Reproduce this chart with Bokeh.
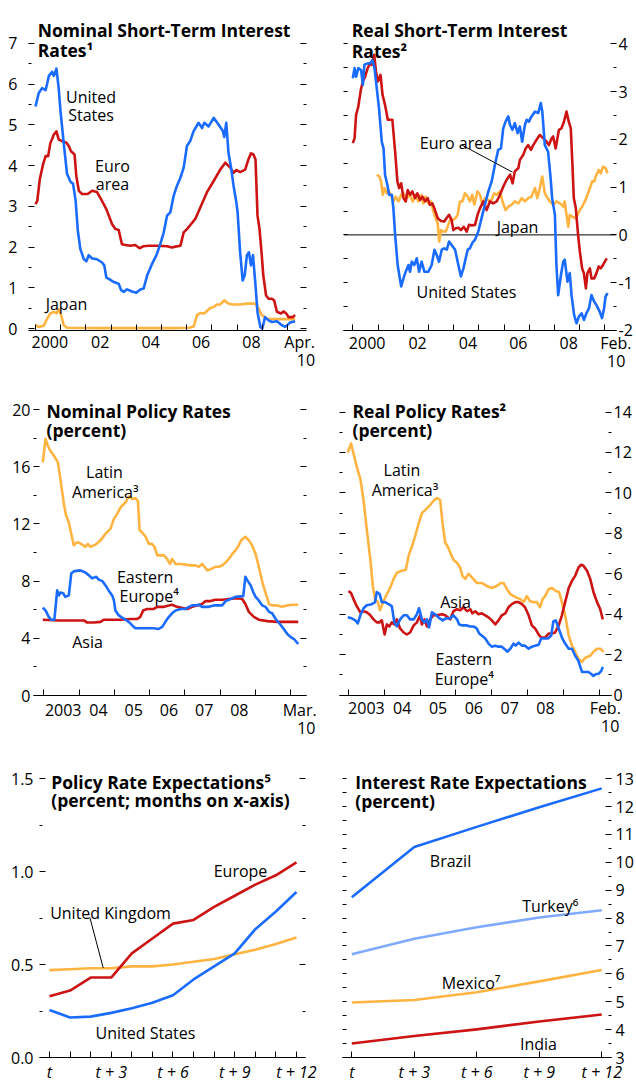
from bokeh.plotting import figure
from bokeh.models import FixedTicker, LinearAxis, Label, Range1d, Span, Arrow, PrintfTickFormatter
from bokeh.layouts import column, row
from bokeh.embed import file_html
from bokeh.resources import INLINE

FONT = "Open Sans"
FS = "16px"
TITLE_FS = "17.5px"
BLUE = "#1A6BFF"
RED = "#CC1414"
ORANGE = "#FFB441"
LIGHT_BLUE = "#80AAFF"
LW = 2.6

# ---------------- data: (year, percent) ----------------
# Panel 1: nominal short-term interest rates
nom_us = [(2000.0,5.45),(2000.13,5.78),(2000.26,5.9),(2000.40,5.85),(2000.46,6.0),(2000.53,6.2),(2000.66,6.3),
          (2000.73,6.2),(2000.83,6.38),(2000.92,5.9),(2000.99,5.35),(2001.12,4.55),(2001.25,3.8),(2001.39,3.6),
          (2001.49,3.55),(2001.59,3.15),(2001.68,2.4),(2001.78,1.95),(2001.92,1.7),(2002.02,1.65),(2002.11,1.8),
          (2002.25,1.72),(2002.44,1.7),(2002.64,1.62),(2002.73,1.55),(2002.81,1.25),(2002.91,1.22),(2003.11,1.14),
          (2003.30,1.1),(2003.40,0.94),(2003.50,0.9),(2003.63,0.96),(2003.83,0.91),(2004.00,0.88),(2004.16,0.96),
          (2004.29,0.98),(2004.43,1.3),(2004.62,1.58),(2004.80,1.8),(2004.93,2.03),(2005.09,2.36),(2005.22,2.77),
          (2005.35,2.85),(2005.48,3.25),(2005.61,3.5),(2005.75,3.7),(2005.88,3.95),(2006.01,4.48),(2006.14,4.6),
          (2006.27,4.84),(2006.47,5.05),(2006.61,4.92),(2006.70,5.05),(2006.87,4.96),(2007.07,5.17),(2007.27,5.0),
          (2007.44,4.84),(2007.49,4.7),(2007.57,5.05),(2007.66,4.3),(2007.75,3.99),(2007.86,3.5),(2007.97,3.1),
          (2008.02,2.85),(2008.12,1.87),(2008.22,1.18),(2008.30,1.3),(2008.39,1.8),(2008.47,1.87),(2008.55,1.55),
          (2008.63,1.8),(2008.72,1.14),(2008.81,0.4),(2008.92,0.04),(2009.00,0.0),(2009.11,0.28),(2009.25,0.2),
          (2009.38,0.16),(2009.58,0.18),(2009.78,0.08),(2009.91,0.04),(2010.11,0.15),(2010.30,0.18)]
nom_euro = [(2000.0,3.05),(2000.07,3.13),(2000.17,3.66),(2000.30,4.03),(2000.40,4.23),(2000.50,4.23),(2000.59,4.55),
            (2000.73,4.76),(2000.83,4.84),(2000.92,4.64),(2001.06,4.6),(2001.23,4.56),(2001.32,4.48),(2001.41,4.35),
            (2001.55,4.27),(2001.62,3.74),(2001.72,3.38),(2001.85,3.3),(2002.07,3.3),(2002.25,3.38),(2002.44,3.35),
            (2002.64,3.13),(2002.81,2.93),(2002.91,2.77),(2003.04,2.56),(2003.17,2.44),(2003.30,2.42),(2003.43,2.07),
            (2003.57,2.05),(2003.76,2.03),(2003.96,2.05),(2004.13,1.97),(2004.29,2.02),(2004.49,2.03),(2004.82,2.03),
            (2005.22,2.02),(2005.42,1.99),(2005.55,2.01),(2005.75,2.03),(2005.88,2.36),(2006.01,2.44),(2006.21,2.59),
            (2006.34,2.69),(2006.54,2.97),(2006.80,3.34),(2007.07,3.62),(2007.33,3.9),(2007.53,4.07),(2007.73,3.95),
            (2007.86,3.82),(2007.97,3.89),(2008.12,3.84),(2008.32,3.9),(2008.45,4.15),(2008.55,4.3),(2008.65,4.27),
            (2008.73,4.15),(2008.81,2.77),(2008.89,2.44),(2008.98,1.79),(2009.04,1.3),(2009.15,0.81),(2009.25,0.73),
            (2009.38,0.73),(2009.47,0.69),(2009.58,0.41),(2009.74,0.37),(2009.84,0.42),(2009.95,0.37),(2010.04,0.28),
            (2010.21,0.28),(2010.30,0.33)]
nom_japan = [(2000.0,0.08),(2000.13,0.04),(2000.33,0.07),(2000.46,0.24),(2000.59,0.37),(2000.73,0.41),(2000.83,0.37),
             (2000.92,0.47),(2001.02,0.33),(2001.12,0.08),(2001.25,0.02),(2002.5,0.01),(2004.0,0.01),(2005.5,0.01),
             (2006.08,0.02),(2006.28,0.05),(2006.41,0.33),(2006.54,0.38),(2006.70,0.37),(2006.91,0.49),(2007.07,0.53),
             (2007.20,0.59),(2007.33,0.59),(2007.49,0.69),(2007.66,0.61),(2007.86,0.59),(2008.12,0.59),(2008.39,0.61),
             (2008.72,0.61),(2008.85,0.49),(2008.98,0.33),(2009.18,0.24),(2009.58,0.23),(2009.97,0.23),(2010.30,0.23)]

# Panel 2: real short-term interest rates
real_us = [(2000.0,3.28),(2000.07,3.49),(2000.13,3.31),(2000.22,3.49),(2000.33,3.45),(2000.40,3.14),(2000.46,3.56),
           (2000.59,3.59),(2000.69,3.59),(2000.78,3.66),(2000.86,3.49),(2000.95,3.07),(2001.04,2.65),(2001.15,1.95),
           (2001.22,1.81),(2001.28,1.26),(2001.37,1.05),(2001.44,0.84),(2001.55,0.84),(2001.61,0.56),(2001.68,0.0),
           (2001.78,-0.63),(2001.92,-1.08),(2002.01,-0.91),(2002.10,-0.77),(2002.21,-0.63),(2002.27,-0.77),
           (2002.34,-0.56),(2002.44,-0.63),(2002.54,-0.49),(2002.63,-0.77),(2002.73,-0.56),(2002.84,-0.77),
           (2003.0,-0.77),(2003.13,-0.63),(2003.24,-0.31),(2003.33,-0.42),(2003.42,-0.56),(2003.53,-0.31),
           (2003.63,-0.28),(2003.73,-0.31),(2003.82,-0.14),(2003.92,-0.21),(2004.06,-0.31),(2004.16,-0.56),
           (2004.29,-0.87),(2004.39,-0.70),(2004.45,-0.56),(2004.56,-0.31),(2004.65,-0.28),(2004.74,-0.17),
           (2004.85,-0.10),(2004.98,0.07),(2005.11,0.35),(2005.24,0.63),(2005.38,0.91),(2005.51,1.12),(2005.64,1.47),
           (2005.77,1.78),(2005.88,1.81),(2005.97,2.23),(2006.06,2.37),(2006.17,2.48),(2006.24,2.30),(2006.33,2.20),
           (2006.43,2.34),(2006.54,2.13),(2006.63,2.27),(2006.72,1.95),(2006.83,2.30),(2006.90,2.41),(2006.99,2.37),
           (2007.09,2.48),(2007.23,2.58),(2007.36,2.55),(2007.46,2.76),(2007.52,2.58),(2007.62,1.88),(2007.75,1.74),
           (2007.85,1.19),(2007.91,0.77),(2008.02,0.42),(2008.08,-0.63),(2008.15,-1.26),(2008.26,-0.84),
           (2008.35,-0.56),(2008.41,-0.52),(2008.52,-0.98),(2008.61,-0.80),(2008.68,-1.26),(2008.78,-1.67),
           (2008.88,-1.85),(2008.97,-1.71),(2009.08,-1.64),(2009.17,-1.78),(2009.27,-1.64),(2009.37,-1.54),
           (2009.47,-1.26),(2009.58,-1.40),(2009.67,-1.47),(2009.80,-1.61),(2009.89,-1.74),(2009.97,-1.54),
           (2010.03,-1.29),(2010.11,-1.22)]
real_euro = [(2000.0,1.92),(2000.07,2.02),(2000.13,2.51),(2000.22,2.69),(2000.32,3.04),(2000.40,3.21),(2000.49,3.31),
             (2000.59,3.49),(2000.69,3.59),(2000.75,3.56),(2000.85,3.77),(2000.92,3.42),(2000.99,3.21),(2001.10,3.35),
             (2001.18,2.93),(2001.28,2.72),(2001.39,2.41),(2001.48,2.41),(2001.57,2.41),(2001.68,1.74),(2001.77,1.12),
             (2001.84,0.98),(2001.92,1.08),(2002.01,0.77),(2002.10,0.70),(2002.18,0.94),(2002.27,0.84),(2002.36,0.91),
             (2002.47,0.77),(2002.56,0.87),(2002.67,0.73),(2002.76,0.80),(2002.87,0.70),(2002.97,0.77),(2003.06,0.63),
             (2003.16,0.66),(2003.26,0.52),(2003.37,0.35),(2003.50,0.29),(2003.63,0.28),(2003.73,0.36),(2003.82,0.42),
             (2003.92,0.31),(2003.99,0.10),(2004.08,0.14),(2004.19,0.15),(2004.29,0.10),(2004.40,0.17),(2004.52,0.07),
             (2004.61,0.21),(2004.72,0.20),(2004.85,0.21),(2004.95,0.42),(2005.05,0.56),(2005.18,0.70),(2005.31,0.52),
             (2005.44,0.70),(2005.57,0.66),(2005.71,0.70),(2005.84,0.84),(2005.97,1.01),(2006.10,1.15),(2006.24,1.26),
             (2006.34,1.08),(2006.43,1.33),(2006.57,1.40),(2006.63,1.57),(2006.76,1.67),(2006.86,1.81),(2006.96,1.88),
             (2007.07,1.78),(2007.16,1.88),(2007.29,1.99),(2007.42,2.09),(2007.56,2.02),(2007.69,1.95),(2007.78,1.88),
             (2007.89,2.02),(2007.95,2.06),(2008.05,1.81),(2008.12,2.02),(2008.18,2.20),(2008.28,2.23),(2008.38,2.37),
             (2008.48,2.58),(2008.57,2.37),(2008.65,2.23),(2008.71,1.54),(2008.77,0.77),(2008.85,0.56),(2008.94,0.0),
             (2009.01,-0.35),(2009.10,-0.70),(2009.17,-0.80),(2009.25,-1.12),(2009.31,-0.80),(2009.41,-0.70),
             (2009.47,-0.91),(2009.58,-0.91),(2009.67,-0.80),(2009.76,-0.66),(2009.84,-0.70),(2009.93,-0.63),
             (2010.0,-0.56),(2010.08,-0.49)]
real_japan = [(2000.95,1.26),(2001.06,1.22),(2001.12,1.12),(2001.19,0.84),(2001.25,0.98),(2001.35,0.87),(2001.41,0.94),
              (2001.51,0.84),(2001.61,0.70),(2001.70,0.80),(2001.81,0.70),(2001.92,0.84),(2002.01,0.87),(2002.14,0.77),
              (2002.27,0.84),(2002.38,0.70),(2002.50,0.84),(2002.60,0.70),(2002.71,0.84),(2002.80,0.66),(2002.89,0.80),
              (2003.0,0.66),(2003.10,0.70),(2003.20,0.49),(2003.29,0.35),(2003.37,0.24),(2003.43,-0.14),(2003.50,0.10),
              (2003.59,0.07),(2003.69,0.07),(2003.79,0.21),(2003.86,0.31),(2003.95,0.31),(2004.08,0.35),(2004.16,0.42),
              (2004.25,0.70),(2004.35,0.70),(2004.45,0.87),(2004.56,0.80),(2004.65,0.70),(2004.74,0.84),(2004.82,0.63),
              (2004.95,0.91),(2005.05,0.84),(2005.14,0.63),(2005.24,0.77),(2005.38,0.73),(2005.48,0.70),(2005.61,0.87),
              (2005.70,0.84),(2005.84,0.91),(2005.94,0.70),(2006.06,0.52),(2006.17,0.59),(2006.30,0.63),(2006.43,0.70),
              (2006.57,0.66),(2006.70,0.77),(2006.83,0.70),(2006.96,0.77),(2007.09,0.80),(2007.23,0.98),(2007.32,0.77),
              (2007.42,0.98),(2007.52,1.22),(2007.62,0.87),(2007.73,0.77),(2007.82,0.70),(2007.95,0.63),(2008.08,0.70),
              (2008.22,0.66),(2008.35,0.59),(2008.41,0.70),(2008.48,0.42),(2008.55,0.17),(2008.61,0.42),(2008.71,0.38),
              (2008.81,0.35),(2008.92,0.42),(2009.01,0.52),(2009.10,0.59),(2009.21,0.70),(2009.31,0.84),(2009.41,0.98),
              (2009.50,1.12),(2009.58,1.12),(2009.67,1.26),(2009.76,1.36),(2009.84,1.29),(2009.93,1.43),(2010.03,1.40),
              (2010.11,1.29)]

# Panel 3: nominal policy rates
pol_latam = [(2002.97,16.3),(2003.05,17.95),(2003.11,17.5),(2003.19,17.1),(2003.28,16.8),(2003.40,16.3),(2003.47,15.15),
             (2003.57,13.4),(2003.63,12.6),(2003.71,12.1),(2003.78,11.3),(2003.85,10.5),(2003.93,10.7),(2003.99,10.7),
             (2004.09,10.55),(2004.18,10.4),(2004.25,10.6),(2004.32,10.4),(2004.47,10.55),(2004.61,10.85),(2004.75,11.3),
             (2004.89,11.65),(2004.99,12.35),(2005.08,12.7),(2005.19,13.2),(2005.32,13.5),(2005.41,13.9),(2005.51,13.75),
             (2005.60,13.8),(2005.67,13.6),(2005.72,11.55),(2005.79,11.4),(2005.89,11.1),(2005.98,10.6),(2006.07,10.6),
             (2006.14,10.4),(2006.22,9.8),(2006.31,9.8),(2006.41,9.8),(2006.50,9.55),(2006.58,9.2),(2006.64,9.55),
             (2006.74,9.2),(2006.88,9.2),(2007.02,9.15),(2007.16,9.1),(2007.30,9.1),(2007.40,9.0),(2007.49,9.2),
             (2007.56,9.0),(2007.64,8.75),(2007.75,8.85),(2007.87,9.0),(2007.97,9.0),(2008.06,9.1),(2008.16,9.3),
             (2008.25,9.55),(2008.35,9.9),(2008.44,10.15),(2008.51,10.4),(2008.60,10.85),(2008.72,11.1),(2008.82,10.85),
             (2008.91,10.5),(2009.01,9.9),(2009.10,9.0),(2009.20,7.95),(2009.29,7.2),(2009.39,6.4),(2009.48,6.3),
             (2009.62,6.3),(2009.76,6.2),(2009.91,6.3),(2010.05,6.35),(2010.22,6.35)]
pol_easteu = [(2002.97,6.15),(2003.05,5.95),(2003.14,5.5),(2003.21,5.3),(2003.30,5.3),(2003.38,7.35),(2003.43,7.0),
              (2003.47,7.2),(2003.55,7.15),(2003.61,6.9),(2003.71,7.0),(2003.78,8.55),(2003.87,8.7),(2004.04,8.75),
              (2004.18,8.6),(2004.28,8.4),(2004.37,8.2),(2004.49,8.3),(2004.56,8.1),(2004.66,8.0),(2004.75,7.7),
              (2004.84,7.35),(2004.94,7.0),(2004.99,6.65),(2005.03,5.95),(2005.13,5.6),(2005.22,5.45),(2005.32,5.3),
              (2005.41,5.15),(2005.51,4.9),(2005.60,4.7),(2005.84,4.7),(2006.12,4.7),(2006.26,4.65),(2006.36,4.8),
              (2006.45,5.15),(2006.55,5.5),(2006.64,5.75),(2006.74,5.95),(2006.88,6.05),(2007.02,6.05),(2007.12,6.2),
              (2007.21,6.3),(2007.30,6.3),(2007.40,6.35),(2007.49,6.2),(2007.68,6.2),(2007.82,6.3),(2008.06,6.3),
              (2008.16,6.6),(2008.30,6.75),(2008.44,6.9),(2008.66,6.95),(2008.72,8.3),(2008.79,8.0),(2008.87,7.7),
              (2008.94,7.25),(2009.01,6.9),(2009.10,6.65),(2009.20,6.3),(2009.29,6.2),(2009.39,5.85),(2009.48,5.75),
              (2009.58,5.35),(2009.70,5.0),(2009.81,4.65),(2009.91,4.3),(2010.0,4.1),(2010.10,3.95),(2010.22,3.6)]
pol_asia = [(2002.97,5.3),(2003.43,5.25),(2004.14,5.25),(2004.23,5.1),(2004.42,5.1),(2004.61,5.15),(2004.70,5.3),
            (2005.18,5.3),(2005.46,5.35),(2005.65,5.35),(2005.74,5.5),(2005.82,5.95),(2005.93,6.05),(2006.12,6.05),
            (2006.22,6.2),(2006.41,6.2),(2006.55,6.3),(2006.64,6.35),(2006.78,6.2),(2007.07,6.05),(2007.21,6.2),
            (2007.35,6.3),(2007.49,6.4),(2007.59,6.6),(2007.73,6.6),(2007.87,6.7),(2008.06,6.7),(2008.25,6.75),
            (2008.49,6.8),(2008.63,6.75),(2008.72,6.4),(2008.82,5.85),(2008.96,5.5),(2009.10,5.3),(2009.34,5.2),
            (2009.62,5.15),(2010.22,5.15)]

# Panel 4: real policy rates
real_latam = [(2002.98,12.0),(2003.07,12.45),(2003.14,11.95),(2003.23,11.3),(2003.33,10.7),(2003.42,9.65),(2003.51,8.2),
              (2003.61,6.7),(2003.68,5.4),(2003.74,4.75),(2003.82,4.6),(2003.88,4.2),(2003.98,4.65),(2004.07,5.0),
              (2004.16,5.3),(2004.26,5.75),(2004.35,6.05),(2004.49,6.15),(2004.60,6.2),(2004.68,6.9),(2004.77,7.35),
              (2004.86,7.85),(2004.96,8.5),(2005.05,9.0),(2005.14,9.15),(2005.28,9.4),(2005.37,9.6),(2005.47,9.75),
              (2005.56,9.65),(2005.63,8.45),(2005.70,7.55),(2005.77,7.35),(2005.84,7.05),(2005.93,6.7),(2006.03,6.55),
              (2006.12,6.3),(2006.18,5.9),(2006.26,5.75),(2006.35,6.0),(2006.46,5.8),(2006.58,5.55),(2006.72,5.55),
              (2006.86,5.4),(2007.0,5.3),(2007.14,5.4),(2007.26,5.55),(2007.33,5.55),(2007.42,5.25),(2007.52,5.0),
              (2007.66,4.85),(2007.80,4.75),(2007.89,4.6),(2007.98,4.9),(2008.07,4.65),(2008.17,4.6),(2008.26,4.6),
              (2008.35,4.35),(2008.42,4.75),(2008.49,4.9),(2008.59,5.25),(2008.68,5.3),(2008.79,5.15),(2008.88,5.1),
              (2008.96,4.6),(2009.05,3.95),(2009.15,2.95),(2009.24,2.45),(2009.33,2.15),(2009.42,1.8),(2009.52,1.65),
              (2009.61,1.85),(2009.75,1.95),(2009.84,2.15),(2009.94,2.3),(2010.03,2.3),(2010.12,2.15)]
real_asia = [(2003.0,5.15),(2003.07,5.05),(2003.14,4.75),(2003.23,4.4),(2003.33,4.1),(2003.42,4.15),(2003.51,4.1),
             (2003.61,3.95),(2003.70,3.75),(2003.79,3.6),(2003.86,3.6),(2003.93,3.7),(2004.01,3.0),(2004.07,3.5),
             (2004.14,3.4),(2004.21,3.6),(2004.28,3.5),(2004.35,3.75),(2004.44,3.3),(2004.54,3.1),(2004.63,3.0),
             (2004.72,3.1),(2004.82,3.45),(2004.91,3.6),(2005.0,3.95),(2005.05,3.5),(2005.12,3.75),(2005.19,3.4),
             (2005.28,3.75),(2005.37,3.95),(2005.47,3.95),(2005.61,4.0),(2005.70,3.95),(2005.84,3.75),(2005.93,4.15),
             (2006.03,4.25),(2006.12,4.2),(2006.21,4.35),(2006.31,4.15),(2006.40,4.25),(2006.46,4.05),(2006.54,4.15),
             (2006.63,4.0),(2006.72,4.05),(2006.82,3.95),(2006.91,3.85),(2007.0,3.7),(2007.10,3.5),(2007.19,3.7),
             (2007.28,3.95),(2007.38,4.05),(2007.47,4.35),(2007.56,4.5),(2007.66,4.6),(2007.75,4.6),(2007.84,4.5),
             (2007.93,4.35),(2008.03,3.95),(2008.12,3.45),(2008.21,3.3),(2008.31,3.0),(2008.38,2.85),(2008.49,2.85),
             (2008.59,3.05),(2008.68,3.05),(2008.77,3.1),(2008.87,3.45),(2008.96,3.95),(2009.05,4.6),(2009.15,5.3),
             (2009.24,5.65),(2009.33,5.9),(2009.42,6.3),(2009.50,6.45),(2009.56,6.4),(2009.66,6.15),(2009.75,5.75),
             (2009.84,5.1),(2009.94,4.6),(2010.03,4.25),(2010.10,3.75)]
real_easteu = [(2002.98,3.85),(2003.09,3.8),(2003.19,3.7),(2003.26,3.55),(2003.33,3.95),(2003.42,4.3),(2003.51,4.45),
               (2003.65,4.5),(2003.74,4.6),(2003.79,5.1),(2003.87,5.0),(2003.93,4.6),(2004.02,4.6),(2004.12,4.5),
               (2004.21,4.4),(2004.28,3.6),(2004.35,3.4),(2004.44,3.75),(2004.54,3.95),(2004.63,3.95),(2004.72,3.75),
               (2004.82,3.75),(2004.91,4.0),(2004.97,4.3),(2005.05,3.75),(2005.12,3.6),(2005.19,3.75),(2005.25,3.35),
               (2005.33,4.1),(2005.42,4.0),(2005.51,3.85),(2005.63,3.7),(2005.72,3.8),(2005.84,3.8),(2005.93,3.95),
               (2006.03,3.75),(2006.09,3.5),(2006.18,3.45),(2006.31,3.45),(2006.40,3.4),(2006.49,3.4),(2006.58,3.3),
               (2006.65,3.05),(2006.72,2.95),(2006.82,2.8),(2006.91,2.55),(2007.0,2.4),(2007.10,2.45),(2007.19,2.4),
               (2007.28,2.4),(2007.38,2.25),(2007.44,2.15),(2007.52,2.3),(2007.61,2.55),(2007.67,2.45),(2007.75,2.6),
               (2007.84,2.45),(2007.93,2.45),(2008.03,2.3),(2008.12,2.4),(2008.21,2.45),(2008.31,2.5),(2008.38,2.8),
               (2008.47,2.8),(2008.57,2.8),(2008.66,2.95),(2008.72,3.65),(2008.79,3.7),(2008.87,3.3),(2008.96,2.85),
               (2009.05,2.55),(2009.15,2.3),(2009.24,2.3),(2009.33,1.95),(2009.42,1.7),(2009.52,1.15),(2009.61,1.15),
               (2009.70,1.15),(2009.78,1.05),(2009.84,0.95),(2009.91,1.05),(2009.98,1.05),(2010.06,1.2),(2010.10,1.4)]

# Panel 5: policy rate expectations (months ahead)
pre_months = [0, 1, 2, 3, 4, 5, 6, 7, 8, 9, 10, 11, 12]
pre_europe = [0.33, 0.36, 0.43, 0.43, 0.56, 0.64, 0.72, 0.74, 0.81, 0.87, 0.93, 0.98, 1.05]
pre_uk = [0.47, 0.475, 0.48, 0.48, 0.49, 0.49, 0.50, 0.515, 0.53, 0.555, 0.58, 0.61, 0.645]
pre_us = [0.255, 0.215, 0.22, 0.24, 0.265, 0.295, 0.335, 0.42, 0.49, 0.56, 0.69, 0.785, 0.89]

# Panel 6: interest rate expectations
ire_months = [0, 3, 6, 9, 12]
ire_brazil = [8.75, 10.55, 11.27, 11.97, 12.65]
ire_turkey = [6.7, 7.26, 7.67, 8.02, 8.28]
ire_mexico = [4.97, 5.06, 5.34, 5.73, 6.14]
ire_india = [3.5, 3.77, 4.01, 4.29, 4.54]

# tick labels
yr_labels_a = ["2000", "02", "04", "06", "08"]
yr_pos_a = [2000, 2002, 2004, 2006, 2008]
yr_labels_b = ["2003", "04", "05", "06", "07", "08"]
yr_pos_b = [2003, 2004, 2005, 2006, 2007, 2008]
t_labels = ["t", "t + 3", "t + 6", "t + 9", "t + 12"]

# ---------------- geometry: (value, page px, px per unit) ----------------
CAL1 = ((2000.0, 35.0, 25.2), (0.0, 330.0, 41.0))
CAL2 = ((2000.0, 352.3, 25.2), (0.0, 234.4, 47.78))
CAL3 = ((2003.0, 43.3, 35.24), (0.0, 695.0, 14.3))
CAL4 = ((2003.0, 348.0, 35.81), (0.0, 696.7, 20.36))
CAL5_REF = ((0.0, 49.0, 20.58), (0.0, 1063.3, 190.0))
CAL5 = ((0.0, 49.0, 20.58), (0.0, 1060.0, 187.8))
CAL6_REF = ((0.0, 351.3, 20.83), (3.0, 1062.7, 28.44))
CAL6 = ((0.0, 351.3, 20.83), (3.0, 1060.0, 28.17))


def unzip(pairs):
    return [a for a, _ in pairs], [b for _, b in pairs]


def dx(cal, px):
    xv, xp, xs = cal[0]
    return xv + (px - xp) / xs


def dy(cal, py):
    yv, yp, ys = cal[1]
    return yv + (yp - py) / ys


def make_panel(box, frame, cal):
    fx, fy, w, h = box
    l, r, t, b = frame
    p = figure(width=w, height=h, title=None,
               x_range=Range1d(dx(cal, l), dx(cal, r)),
               y_range=Range1d(dy(cal, b), dy(cal, t)),
               output_backend="svg", toolbar_location=None,
               min_border_left=l - fx, min_border_right=fx + w - r,
               min_border_top=t - fy, min_border_bottom=fy + h - b)
    p.outline_line_color = None
    p.xgrid.visible = False
    p.ygrid.visible = False
    p.background_fill_color = "white"
    p.border_fill_color = "white"
    return p


def set_ticks(ax, major, minor=(), labels=False, standoff=0, major_in=6, minor_in=3, fmt=None):
    ax.ticker = FixedTicker(ticks=list(major), minor_ticks=list(minor))
    ax.axis_line_color = None
    ax.major_tick_in = major_in
    ax.major_tick_out = 0
    ax.minor_tick_in = minor_in
    ax.minor_tick_out = 0
    ax.major_tick_line_color = "black"
    ax.minor_tick_line_color = "black"
    ax.major_label_standoff = standoff
    if labels:
        ax.major_label_text_font = FONT
        ax.major_label_text_font_size = FS
        ax.major_label_text_color = "black"
    else:
        ax.major_label_text_font_size = "1px"
        ax.major_label_text_color = None
    if fmt is not None:
        ax.formatter = fmt


def x_axis_years(p, bounds, label_pos, label_txt, standoff, second_pos, second_txt, second_standoff=-2):
    ax = p.xaxis[0]
    ax.ticker = FixedTicker(ticks=list(label_pos), minor_ticks=list(bounds))
    ax.major_label_overrides = {pos: s for pos, s in zip(label_pos, label_txt)}
    ax.major_tick_in = 0
    ax.major_tick_out = 0
    ax.major_tick_line_color = None
    ax.minor_tick_in = 6
    ax.minor_tick_out = 0
    ax.minor_tick_line_color = "black"
    ax.axis_line_color = "black"
    ax.axis_line_width = 1.2
    ax.major_label_standoff = standoff
    ax.major_label_text_font = FONT
    ax.major_label_text_font_size = FS
    ax.major_label_text_color = "black"
    ax2 = LinearAxis(ticker=FixedTicker(ticks=[second_pos]), major_label_overrides={second_pos: second_txt})
    ax2.axis_line_color = None
    ax2.major_tick_line_color = None
    ax2.minor_tick_line_color = None
    ax2.major_tick_in = 0
    ax2.major_tick_out = 0
    ax2.minor_tick_in = 0
    ax2.minor_tick_out = 0
    ax2.major_label_standoff = second_standoff
    ax2.major_label_text_font = FONT
    ax2.major_label_text_font_size = FS
    ax2.major_label_text_color = "black"
    p.add_layout(ax2, "below")


def x_axis_months(p, major, labels, minor=(), standoff=3):
    ax = p.xaxis[0]
    ax.ticker = FixedTicker(ticks=list(major), minor_ticks=list(minor))
    ax.major_label_overrides = {m: s for m, s in zip(major, labels)}
    ax.major_tick_in = 6
    ax.major_tick_out = 0
    ax.minor_tick_in = 6
    ax.minor_tick_out = 0
    ax.major_tick_line_color = "black"
    ax.minor_tick_line_color = "black"
    ax.axis_line_color = "black"
    ax.axis_line_width = 1.2
    ax.major_label_standoff = standoff
    ax.major_label_text_font = FONT
    ax.major_label_text_font_size = FS
    ax.major_label_text_font_style = "italic"
    ax.major_label_text_color = "black"


def right_axis(p, major, minor=(), labels=False, standoff=0, major_in=6, minor_in=3):
    ax = LinearAxis()
    set_ticks(ax, major, minor, labels=labels, standoff=standoff, major_in=major_in, minor_in=minor_in,
              fmt=PrintfTickFormatter(format="%d"))
    p.add_layout(ax, "right")


def lbl(p, x, y, s, align="center", style="normal", size=FS):
    p.add_layout(Label(x=x, y=y, text=s, text_font=FONT, text_font_size=size, text_font_style=style,
                       text_align=align, text_baseline="alphabetic", text_color="black"))


def txt(p, cal, px, py, s, align="center", style="normal"):
    lbl(p, dx(cal, px), dy(cal, py), s, align=align, style=style)


def title(p, cal, px, py, s):
    lbl(p, dx(cal, px), dy(cal, py), s, align="left", style="bold", size=TITLE_FS)


def line(p, x, y, color):
    p.line(x, y, line_color=color, line_width=LW, line_join="round")


def leader(p, cal, p0, p1):
    p.add_layout(Arrow(end=None, x_start=dx(cal, p0[0]), y_start=dy(cal, p0[1]),
                       x_end=dx(cal, p1[0]), y_end=dy(cal, p1[1]), line_color="black", line_width=1))


def halves(a, b):
    return [a + 0.5 * i for i in range(int(round((b - a) * 2)) + 1)]


years_00 = list(range(2000, 2011))
years_03 = list(range(2003, 2011))

# ---------------- Panel 1 ----------------
p1 = make_panel((0, 0, 318, 380), (28, 306, 12, 332), CAL1)
x_axis_years(p1, years_00, [y + 0.57 for y in yr_pos_a] + [2010.48], yr_labels_a + ["Apr."], 0, 2010.73, "10")
ints = list(range(0, 8))
mids = [v + 0.5 for v in range(0, 7)]
set_ticks(p1.yaxis[0], ints, mids, labels=True, standoff=11, fmt=PrintfTickFormatter(format="%d"))
right_axis(p1, ints, mids)
for pairs, col in ((nom_japan, ORANGE), (nom_euro, RED), (nom_us, BLUE)):
    line(p1, *unzip(pairs), col)
title(p1, CAL1, 37.3, 30, "Nominal Short-Term Interest")
title(p1, CAL1, 37.3, 50, "Rates\u00b9")
txt(p1, CAL1, 90.5, 96.7, "United")
txt(p1, CAL1, 90.5, 115, "States")
txt(p1, CAL1, 112, 166.7, "Euro")
txt(p1, CAL1, 112, 185, "area")
txt(p1, CAL1, 66, 305, "Japan")

# ---------------- Panel 2 ----------------
p2 = make_panel((318, 0, 318, 380), (343, 616, 12, 330), CAL2)
x_axis_years(p2, years_00, [y + 0.57 for y in yr_pos_a] + [2010.44], yr_labels_a + ["Feb."], 1, 2010.45, "10")
set_ticks(p2.yaxis[0], halves(-2, 4), major_in=4)
right_axis(p2, list(range(-2, 5)), [v + 0.5 for v in range(-2, 4)], labels=True, standoff=2)
p2.add_layout(Span(location=0, dimension="width", line_color="black", line_width=1, level="underlay"))
for pairs, col in ((real_japan, ORANGE), (real_euro, RED), (real_us, BLUE)):
    line(p2, *unzip(pairs), col)
title(p2, CAL2, 351.3, 29.3, "Real Short-Term Interest")
title(p2, CAL2, 351.3, 50, "Rates\u00b2")
txt(p2, CAL2, 455.5, 142.7, "Euro area")
leader(p2, CAL2, (461.3, 144.5), (512, 171.7))
txt(p2, CAL2, 517, 226, "Japan")
txt(p2, CAL2, 466, 291.7, "United States")

# ---------------- Panel 3 ----------------
p3 = make_panel((0, 380, 318, 370), (33, 306, 388, 695), CAL3)
x_axis_years(p3, years_03, [y + 0.55 for y in yr_pos_b] + [2010.26], yr_labels_b + ["Mar."], 3, 2010.45, "10")
maj3 = [0, 4, 8, 12, 16, 20]
min3 = [2, 6, 10, 14, 18]
set_ticks(p3.yaxis[0], maj3, min3, labels=True, standoff=3, fmt=PrintfTickFormatter(format="%d"))
right_axis(p3, maj3, min3)
for pairs, col in ((pol_latam, ORANGE), (pol_asia, RED), (pol_easteu, BLUE)):
    line(p3, *unzip(pairs), col)
title(p3, CAL3, 46, 410.7, "Nominal Policy Rates")
title(p3, CAL3, 46, 429.3, "(percent)")
txt(p3, CAL3, 104, 471.7, "Latin")
txt(p3, CAL3, 104.7, 491.7, "America\u00b3")
txt(p3, CAL3, 144.7, 576, "Eastern")
txt(p3, CAL3, 148.7, 595, "Europe\u2074")
txt(p3, CAL3, 87, 641.7, "Asia")

# ---------------- Panel 4 ----------------
p4 = make_panel((318, 380, 318, 370), (339, 611, 388, 697), CAL4)
x_axis_years(p4, years_03, [y + 0.5 for y in yr_pos_b] + [2010.17], yr_labels_b + ["Feb."], 1, 2010.31, "10")
maj4 = list(range(0, 15, 2))
min4 = list(range(1, 14, 2))
set_ticks(p4.yaxis[0], maj4, min4, major_in=6)
right_axis(p4, maj4, min4, labels=True, standoff=2)
for pairs, col in ((real_latam, ORANGE), (real_asia, RED), (real_easteu, BLUE)):
    line(p4, *unzip(pairs), col)
title(p4, CAL4, 352, 410.7, "Real Policy Rates\u00b2")
title(p4, CAL4, 352, 429.3, "(percent)")
txt(p4, CAL4, 401.5, 470, "Latin")
txt(p4, CAL4, 404.5, 490, "America\u00b3")
txt(p4, CAL4, 455, 602.7, "Asia")
txt(p4, CAL4, 463.3, 660.7, "Eastern")
txt(p4, CAL4, 463.8, 680, "Europe\u2074")

# ---------------- Panel 5 ----------------
p5 = make_panel((0, 750, 318, 335), (39, 305, 760, 1060), CAL5)
x_axis_months(p5, ire_months, t_labels, minor=[m for m in pre_months if m % 3])
maj5 = [0.0, 0.5, 1.0, 1.5]
min5 = [0.25, 0.75, 1.25]
set_ticks(p5.yaxis[0], maj5, min5, labels=True, standoff=6, fmt=PrintfTickFormatter(format="%.1f"))
right_axis(p5, maj5, min5)
line(p5, pre_months, pre_uk, ORANGE)
line(p5, pre_months, pre_europe, RED)
line(p5, pre_months, pre_us, BLUE)
title(p5, CAL5_REF, 50.7, 781.7, "Policy Rate Expectations\u2075")
title(p5, CAL5_REF, 50.7, 800, "(percent; months on x-axis)")
txt(p5, CAL5_REF, 240, 872.7, "Europe")
txt(p5, CAL5_REF, 110, 915.7, "United Kingdom")
leader(p5, CAL5_REF, (89.3, 920), (102.7, 971.7))
txt(p5, CAL5_REF, 145, 1038.3, "United States")

# ---------------- Panel 6 ----------------
p6 = make_panel((318, 750, 318, 335), (342, 611, 760, 1060), CAL6)
x_axis_months(p6, ire_months, t_labels)
set_ticks(p6.yaxis[0], halves(3, 13), major_in=4)
right_axis(p6, list(range(3, 14)), [v + 0.5 for v in range(3, 13)], labels=True, standoff=4)
line(p6, ire_months, ire_india, RED)
line(p6, ire_months, ire_mexico, ORANGE)
line(p6, ire_months, ire_turkey, LIGHT_BLUE)
line(p6, ire_months, ire_brazil, BLUE)
title(p6, CAL6_REF, 354.7, 781.7, "Interest Rate Expectations")
title(p6, CAL6_REF, 354.7, 800.7, "(percent)")
txt(p6, CAL6_REF, 450, 862.3, "Brazil")
txt(p6, CAL6_REF, 549.7, 908.3, "Turkey\u2076")
txt(p6, CAL6_REF, 470.5, 986.7, "Mexico\u2077")
txt(p6, CAL6_REF, 538, 1049.3, "India")

layout = column(row(p1, p2), row(p3, p4), row(p5, p6))
open("out.html", "w").write(file_html(layout, INLINE, title="Interest rates"))
